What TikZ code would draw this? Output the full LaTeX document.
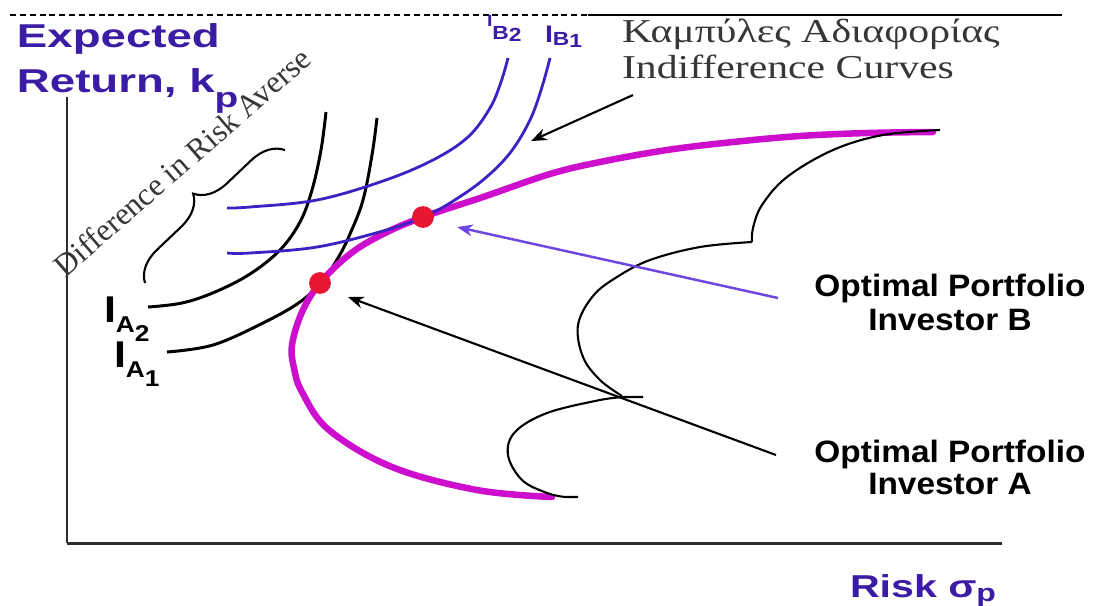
\documentclass[tikz,border=0pt]{standalone}
\usepackage{fontspec}
\usepackage{graphicx}
\setmainfont{Liberation Serif}
\setsansfont{Liberation Sans}
\usetikzlibrary{arrows.meta,decorations.pathreplacing}
\definecolor{ttl}{RGB}{58,28,165}
\definecolor{bcur}{RGB}{62,32,195}
\definecolor{barr}{RGB}{110,70,225}
\definecolor{mag}{RGB}{205,15,205}
\definecolor{dotred}{RGB}{232,22,48}
\definecolor{gtxt}{RGB}{55,55,55}
\definecolor{axc}{RGB}{45,45,45}
\newcommand{\fsz}[1]{\fontsize{#1}{#1}\selectfont}
\begin{document}
\begin{tikzpicture}[x=0.01cm,y=-0.01cm,
  lbl/.style={inner sep=0pt,outer sep=0pt},
  ttlS/.style={lbl,text=ttl,font=\sffamily\bfseries,anchor=base west},
  blkS/.style={lbl,text=black,font=\sffamily\bfseries,anchor=base west},
  optS/.style={lbl,text=black,font=\sffamily\bfseries,anchor=base},
  serS/.style={lbl,text=gtxt,font=\rmfamily,anchor=base west},
  icurA/.style={line width=0.85pt,black},
  icurB/.style={line width=0.8pt,bcur},
  front/.style={line width=1.85pt,mag,line cap=round},
  feas/.style={line width=0.6pt,black},
  arrK/.style={line width=0.6pt,black,-{Stealth[length=4.5pt,width=3.4pt]}},
  arrP/.style={line width=0.7pt,barr,-{Stealth[length=4.5pt,width=3.4pt]}},
  dotS/.style={circle,fill=dotred,inner sep=0pt,minimum size=6.2pt},
  axS/.style={axc}]
\useasboundingbox (0,0) rectangle (1099,605);

% top rule
\coordinate (r0) at (10,15);
\coordinate (r1) at (588,15);
\coordinate (r2) at (1062,15);
\draw[line width=0.5pt,dash pattern=on 1.7pt off 1.1pt] (r0) -- (r1);
\draw[line width=0.5pt] (r1) -- (r2);

% axes
\coordinate (ytop) at (67,97);
\coordinate (orig) at (67,543);
\coordinate (xend) at (1002,543);
\draw[axS,line width=0.6pt] (ytop) -- (orig);
\draw[axS,line width=0.85pt] (orig) -- (xend);

% indifference curves A (black)
\draw[icurA] plot[smooth,tension=0.6] coordinates {(148,307) (182,303) (215,292) (250,274) (280,250) (300,222) (312,190) (321,150) (326,112)};
\draw[icurA] plot[smooth,tension=0.6] coordinates {(167,352) (213,345) (263,323) (300,302) (322,281) (338,258) (350,234) (363,200) (372,155) (377,118)};

% efficient frontier (magenta)
\draw[front] plot[smooth,tension=0.6] coordinates {(933,132) (867,133) (800,136) (733,142) (667,150) (600,162) (550,174) (483,197) (423,217) (383,234) (350,254) (320,283) (302,312) (292,345) (294,368) (302,392) (329,430) (392,467) (477,490) (552,497)};

% indifference curves B (blue)
\draw[icurB] plot[smooth,tension=0.6] coordinates {(227,208) (250,207) (317,200) (383,181) (433,160) (468,137) (490,108) (501,82) (508,58)};
\draw[icurB] plot[smooth,tension=0.6] coordinates {(227,253) (250,253) (317,247) (383,231) (423,217) (450,203) (483,180) (510,153) (530,120) (542,87) (550,58)};

% feasible set boundary
\draw[feas] plot[smooth,tension=0.6] coordinates {(940,130) (883,135) (833,150) (787,177) (762,205) (753,228) (752,242)};
\draw[feas] plot[smooth,tension=0.6] coordinates {(752,242) (700,247) (650,260) (617,277) (593,296) (578,325) (583,357) (600,380) (622,396)};
\draw[feas] (643,397) -- (625,397) plot[smooth,tension=0.6] coordinates {(625,397) (600,400) (547,413) (515,432) (508,455) (522,480) (547,493) (565,497)} -- (578,497);

% optimal portfolio dots
\node[dotS] (dotB) at (423,217) {};
\node[dotS] (dotA) at (320,283) {};

% arrows
\coordinate (icTail) at (633,95);
\coordinate (icHead) at (531,141);
\draw[arrK] (icTail) -- (icHead);
\coordinate (bTail) at (778,298);
\coordinate (bHead) at (457,227);
\draw[arrP] (bTail) -- (bHead);
\coordinate (aTail) at (776,455);
\coordinate (aHead) at (348,297);
\draw[arrK] (aTail) -- (aHead);

% brace
\coordinate (br0) at (145,283);
\coordinate (br1) at (285,150);
\draw[line width=0.6pt,decorate,decoration={brace,amplitude=9pt}] (br0) -- (br1);

% texts
\node[ttlS] (yl1) at (17,47) {\scalebox{1.38}[1]{\fsz{9.4pt}Expected}};
\node[ttlS] (yl2) at (17,92) {\scalebox{1.38}[1]{\fsz{9.4pt}Return, k\raisebox{-4.3pt}{\fsz{8pt}p}}};
\node[ttlS] (xl) at (850,597) {\scalebox{1.3}[1]{\fsz{9pt}Risk σ\raisebox{-1.2pt}{\fsz{7pt}p}}};

\node[ttlS] (ib2) at (487,26) {\scalebox{1.2}[1]{\fsz{4.6pt}I\raisebox{-3.7pt}{\fsz{5.4pt}B\raisebox{-0.6pt}{2}}}};
\node[ttlS] (ib1) at (545,42) {\scalebox{1.2}[1]{\fsz{6.8pt}I\raisebox{-0.9pt}{\fsz{5.4pt}B\raisebox{-0.6pt}{1}}}};

\node[blkS] (ia2) at (104,322) {\scalebox{1.15}[1]{\fsz{10.6pt}I\raisebox{-3.1pt}{\fsz{6.5pt}A\raisebox{-2.3pt}{2}}}};
\node[blkS] (ia1) at (114,367) {\scalebox{1.15}[1]{\fsz{10.6pt}I\raisebox{-3.1pt}{\fsz{6.5pt}A\raisebox{-2.3pt}{1}}}};

\node[serS] (gr) at (622,42) {\scalebox{1.25}[1]{\fsz{9.5pt}Καμπύλες Αδιαφορίας}};
\node[serS] (en) at (622,78) {\scalebox{1.25}[1]{\fsz{9.5pt}Indifference Curves}};

\node[lbl,text=gtxt,font=\rmfamily,rotate=41] (dra) at (182,162) {\fsz{9pt}Difference in Risk Averse};

\node[optS] (optB1) at (950,296) {\scalebox{1.08}[1]{\fsz{8.8pt}Optimal Portfolio}};
\node[optS] (optB2) at (950,330) {\scalebox{1.08}[1]{\fsz{8.8pt}Investor B}};
\node[optS] (optA1) at (950,462) {\scalebox{1.08}[1]{\fsz{8.8pt}Optimal Portfolio}};
\node[optS] (optA2) at (950,494) {\scalebox{1.08}[1]{\fsz{8.8pt}Investor A}};
\end{tikzpicture}
\end{document}
